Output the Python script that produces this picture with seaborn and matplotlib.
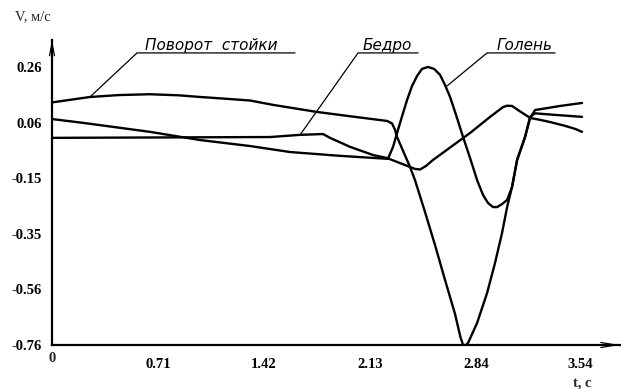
import numpy as np
import pandas as pd
import matplotlib
matplotlib.use("Agg")
import matplotlib.pyplot as plt
import seaborn as sns

# ---- data ----
t_povorot = [0.0, 0.255, 0.45, 0.656, 0.85, 0.991, 1.15, 1.326, 1.48, 1.775, 2.000, 2.244,
             2.277, 2.297, 2.311, 2.398, 2.431, 2.498, 2.565, 2.632, 2.699, 2.735,
             2.753, 2.773, 2.786, 2.847, 2.914, 2.967, 3.014, 3.048, 3.081, 3.115, 3.168,
             3.202, 3.235, 3.403, 3.550]
v_povorot = [0.130, 0.150, 0.157, 0.160, 0.156, 0.150, 0.144, 0.137, 0.121, 0.095, 0.079, 0.062,
             0.053, 0.030, 0.003, -0.107, -0.155, -0.272, -0.393, -0.521, -0.646, -0.730,
             -0.760, -0.760, -0.753, -0.679, -0.569, -0.459, -0.349, -0.254, -0.180, -0.081, 0.003,
             0.073, 0.102, 0.117, 0.128]

t_bedro = [0.0, 1.460, 1.661, 1.815, 1.862, 1.996, 2.150, 2.244, 2.398, 2.431, 2.465, 2.505,
           2.552, 2.800, 2.934, 3.021, 3.048, 3.081, 3.121, 3.202, 3.269, 3.336, 3.436, 3.503,
           3.550]
v_bedro = [0.000, 0.003, 0.011, 0.014, 0.000, -0.033, -0.063, -0.074, -0.107, -0.114, -0.116,
           -0.103, -0.081, 0.018, 0.077, 0.113, 0.118, 0.117, 0.102, 0.073, 0.066, 0.058, 0.044,
           0.033, 0.022]

t_golen = [0.0, 0.208, 0.656, 0.991, 1.326, 1.594, 1.929, 2.250, 2.284, 2.317, 2.351, 2.378,
           2.411, 2.445, 2.478, 2.518, 2.559, 2.599, 2.632, 2.666, 2.706, 2.753, 2.800, 2.847,
           2.887, 2.920, 2.954, 2.981, 3.014, 3.048, 3.081, 3.115, 3.168, 3.202, 3.235, 3.350,
           3.550]
v_golen = [0.069, 0.055, 0.022, -0.008, -0.030, -0.052, -0.066, -0.077, -0.033, 0.029, 0.091,
           0.139, 0.190, 0.227, 0.253, 0.260, 0.253, 0.231, 0.194, 0.150, 0.084, 0.003, -0.074,
           -0.155, -0.210, -0.239, -0.254, -0.254, -0.243, -0.228, -0.180, -0.081, 0.003, 0.077,
           0.090, 0.085, 0.077]

x_tick_labels = ["0", "0.71", "1.42", "2.13", "2.84", "3.54"]
y_tick_labels = ["-0.76", "-0.56", "-0.35", "-0.15", "0.06", "0.26"]

series_names = ["Поворот стойки", "Бедро", "Голень"]

# ---- figure ----
sns.set_style("white")
plt.rcParams["font.family"] = ["DejaVu Sans"]

W, H = 621, 389
fig = plt.figure(figsize=(W / 100, H / 100), dpi=100)
x0, x1, y0, y1 = 52, 620, 40, 345
ax = fig.add_axes([x0 / W, (H - y1) / H, (x1 - x0) / W, (y1 - y0) / H])

for t, v in [(t_povorot, v_povorot), (t_bedro, v_bedro), (t_golen, v_golen)]:
    sns.lineplot(x=t, y=v, sort=False, estimator=None, color="black", lw=1.7, ax=ax)

xmax = 3.804
ymax = 0.359
ax.set_xlim(0, xmax)
ax.set_ylim(-0.76, ymax)

for s in ["top", "right"]:
    ax.spines[s].set_visible(False)
for s in ["left", "bottom"]:
    ax.spines[s].set_linewidth(1.6)
    ax.spines[s].set_color("black")

xt = [float(s) for s in x_tick_labels]
yt = np.linspace(-0.76, 0.26, len(y_tick_labels))
ax.set_xticks(xt)
ax.set_xticklabels([""] + x_tick_labels[1:])
ax.set_yticks(yt)
ax.set_yticklabels(y_tick_labels)
ax.set_xticks([(a + b) / 2 for a, b in zip(xt[:-1], xt[1:])], minor=True)
ax.set_yticks([(a + b) / 2 for a, b in zip(yt[:-1], yt[1:])], minor=True)
ax.tick_params(axis="both", which="both", direction="inout", length=5, width=1, colors="black")
ax.tick_params(axis="x", which="major", pad=7)
ax.tick_params(axis="y", which="major", pad=5)
tick_font = dict(family="Liberation Serif", weight="bold", size=10.5)
for lab in ax.get_xticklabels() + ax.get_yticklabels():
    lab.set_fontproperties(matplotlib.font_manager.FontProperties(**tick_font))
# "0" label sits slightly higher than others
fig.text(52 / W, 1 - 358 / H, "0", ha="center", va="center", **tick_font)

# axis arrows
ax.annotate("", xy=(0, 1.0), xytext=(0, 0.9), xycoords="axes fraction",
            arrowprops=dict(arrowstyle="->,head_length=0.9,head_width=0.18", lw=0.9, color="black",
                            shrinkA=0, shrinkB=0))
ax.annotate("", xy=(1.0, 0), xytext=(0.9, 0), xycoords="axes fraction",
            arrowprops=dict(arrowstyle="->,head_length=1.1,head_width=0.18", lw=0.9, color="black",
                            shrinkA=0, shrinkB=0))

# axis titles
fig.text(15 / W, 1 - 17 / H, "V, м/с", ha="left", va="center",
         family="Liberation Serif", size=10.5)
fig.text(573 / W, 1 - 383 / H, "t, c", ha="left", va="center",
         family="Liberation Serif", weight="bold", size=10.5)

# labels with leader lines
def px2d(x, y):
    return (x - 52) / 149.3, -0.76 + (345 - y) / 272.5

labels = [
    (series_names[0], 137, 295, 145, (90, 97)),
    (series_names[1], 358, 418, 363, (300, 135)),
    (series_names[2], 487, 555, 497, (447, 86)),
]
for name, ux0, ux1, tx, (px, py) in labels:
    a = px2d(ux0, 53)
    b = px2d(ux1, 53)
    c = px2d(px, py)
    ax.plot([c[0], a[0], b[0]], [c[1], a[1], b[1]], color="black", lw=0.9, clip_on=False)
    txt = name.replace(" ", "  ")
    tp = px2d(tx, 50)
    ax.text(tp[0], tp[1], txt, ha="left", va="baseline", style="italic",
            family="DejaVu Sans", size=11, color="black")

ax.set_xlabel("")
ax.set_ylabel("")
fig.savefig("out.png", dpi=100)
